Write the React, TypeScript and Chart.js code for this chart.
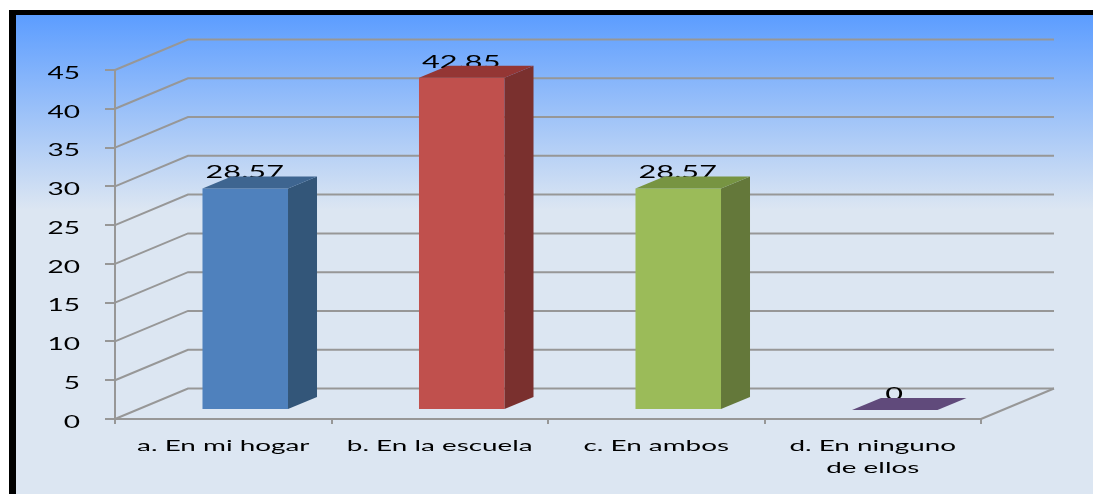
import React, { useEffect, useRef } from "react";
import { Chart, registerables } from "chart.js";

Chart.register(...registerables);

const categories: (string | string[])[] = ["a. En mi hogar", "b. En la escuela", "c. En ambos", ["d. En ninguno", "de ellos"]];
const values = [28.57, 42.85, 28.57, 0];
const valueLabels = ["28.57", "42.85", "28.57", "0"];
const frontColors = ["#4F81BD", "#C0504D", "#9BBB59", "#604A7B"];
const sideColors = ["#335679", "#7A302E", "#64783A", "#3E2F50"];
const topColors = ["#3E6590", "#943634", "#779442", "#604A7B"];

const FONT_FAMILY = "Lato";
const WALL_DX = 73;
const WALL_DY = -30.5;
const BAR_DX = 22;
const BAR_DY = -9;
const DEPTH_DX = 29;
const DEPTH_DY = -12;
const LINE = "#979797";

function stretchLabels(scale: any, stretch: number, dy: number) {
  if (scale.__stretched) return;
  scale.__stretched = true;
  const getItems = scale.getLabelItems.bind(scale);
  const drawLabels = scale.drawLabels.bind(scale);
  scale.getLabelItems = (area: any) =>
    getItems(area).map((it: any) => ({
      ...it,
      options: {
        ...it.options,
        translation: [it.options.translation[0] / stretch, it.options.translation[1] + dy],
      },
    }));
  scale.drawLabels = (area: any) => {
    const c = scale.ctx;
    c.save();
    c.scale(stretch, 1);
    drawLabels(area);
    c.restore();
  };
}

const poly = (ctx: CanvasRenderingContext2D, pts: number[][], fill: string) => {
  ctx.fillStyle = fill;
  ctx.beginPath();
  pts.forEach((p, i) => (i ? ctx.lineTo(p[0], p[1]) : ctx.moveTo(p[0], p[1])));
  ctx.closePath();
  ctx.fill();
};

const depthPlugin = {
  id: "depth",
  beforeDraw(chart: any) {
    stretchLabels(chart.scales.x, 1.74, 0);
    stretchLabels(chart.scales.y, 1.7, 3.5);
  },
  beforeDatasetsDraw(chart: any) {
    const { ctx, chartArea: a, scales } = chart;
    ctx.save();
    ctx.strokeStyle = LINE;
    ctx.lineWidth = 2;
    scales.y.ticks.forEach((t: any) => {
      const y = scales.y.getPixelForValue(t.value);
      ctx.beginPath();
      ctx.moveTo(a.left, y);
      ctx.lineTo(a.left + WALL_DX, y + WALL_DY);
      ctx.lineTo(a.right + WALL_DX, y + WALL_DY);
      ctx.stroke();
    });
    ctx.beginPath();
    ctx.moveTo(a.right, a.bottom);
    ctx.lineTo(a.right + WALL_DX, a.bottom + WALL_DY);
    ctx.stroke();
    ctx.restore();
  },
  beforeDatasetDraw(chart: any, args: any) {
    const { ctx } = chart;
    const meta = chart.getDatasetMeta(args.index);
    ctx.save();
    ctx.font = `17.5px ${FONT_FAMILY}`;
    ctx.fillStyle = "#000";
    ctx.textAlign = "center";
    ctx.textBaseline = "alphabetic";
    meta.data.forEach((el: any, i: number) => {
      ctx.save();
      ctx.translate(el.x + BAR_DX - 0.5, el.y + BAR_DY - 10);
      ctx.scale(1.75, 1);
      ctx.fillText(valueLabels[i], 0, 0);
      ctx.restore();
    });
    ctx.restore();
    ctx.save();
    ctx.translate(BAR_DX, BAR_DY);
  },
  afterDatasetDraw(chart: any, args: any) {
    const { ctx } = chart;
    ctx.restore();
    const meta = chart.getDatasetMeta(args.index);
    meta.data.forEach((el: any, i: number) => {
      const l = el.x - el.width / 2 + BAR_DX;
      const r = el.x + el.width / 2 + BAR_DX;
      const t = el.y + BAR_DY;
      const b = el.base + BAR_DY;
      if (b - t > 0.5) {
        poly(ctx, [[r, t], [r + DEPTH_DX, t + DEPTH_DY], [r + DEPTH_DX, b + DEPTH_DY], [r, b]], sideColors[i]);
      }
      poly(ctx, [[l, t], [l + DEPTH_DX, t + DEPTH_DY], [r + DEPTH_DX, t + DEPTH_DY], [r, t]], topColors[i]);
    });
  },
};

export default function App() {
  const ref = useRef<HTMLCanvasElement>(null);
  useEffect(() => {
    document.body.style.margin = "0";
    document.body.style.background = "#fff";
    const chart = new Chart(ref.current!, {
      type: "bar",
      data: {
        labels: categories as any,
        datasets: [
          {
            data: values,
            backgroundColor: frontColors,
            barPercentage: 0.395,
            categoryPercentage: 1,
            clip: false as any,
          },
        ],
      },
      plugins: [depthPlugin as any],
      options: {
        animation: false,
        responsive: false,
        layout: { padding: { top: 70, right: 112, left: 0, bottom: 0 } },
        plugins: { legend: { display: false }, tooltip: { enabled: false }, title: { display: false } },
        scales: {
          x: {
            grid: { drawOnChartArea: false, drawTicks: true, tickLength: 5, color: LINE, lineWidth: 2 },
            border: { color: LINE, width: 2 },
            ticks: {
              color: "#000",
              padding: 11,
              maxRotation: 0,
              autoSkip: false,
              font: { family: FONT_FAMILY, size: 16, lineHeight: 1.35 },
            },
            afterFit: (s: any) => {
              s.height = 75;
            },
          },
          y: {
            min: 0,
            max: 45,
            grid: { drawOnChartArea: false, drawTicks: true, tickLength: 10, color: LINE, lineWidth: 2 },
            border: { color: LINE, width: 2 },
            ticks: {
              stepSize: 5,
              color: "#000",
              padding: 25,
              font: { family: FONT_FAMILY, size: 16.5 },
            },
            afterFit: (s: any) => {
              s.width = 115;
            },
          },
        },
      },
    });
    return () => chart.destroy();
  }, []);
  return (
    <div style={{ position: "relative", width: 1093, height: 494, overflow: "hidden" }}>
      <div
        style={{
          position: "absolute",
          left: 9,
          top: 10,
          right: 0,
          bottom: 0,
          borderLeft: "7px solid #000",
          borderTop: "5px solid #000",
          background: "linear-gradient(to bottom, #5C9DFF 0px, #DCE6F2 195px, #DCE6F2 100%)",
        }}
      />
      <canvas
        ref={ref}
        width={1093}
        height={494}
        style={{ position: "absolute", left: 0, top: 0, display: "block", filter: "blur(0.6px)" }}
      />
    </div>
  );
}
